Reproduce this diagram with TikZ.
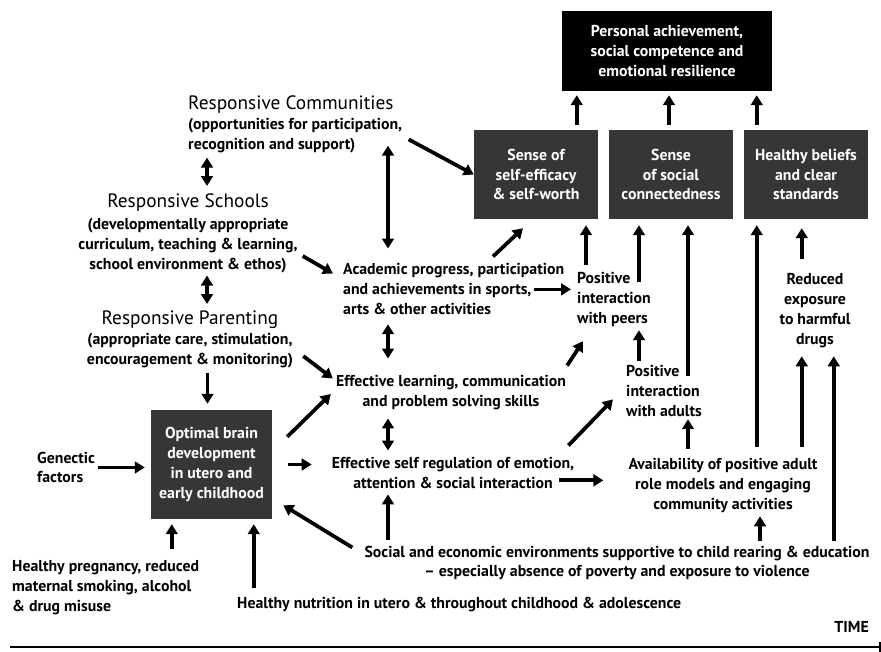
\documentclass[tikz,border=0pt]{standalone}
\usepackage{fontspec}
\setmainfont{PT Sans}
\usetikzlibrary{arrows.meta,calc}
\definecolor{boxgray}{HTML}{363636}
\newcommand\ttlfont{\fontsize{16.5}{18}\selectfont}
\begin{document}
\begin{tikzpicture}[x=0.03cm,y=-0.03cm,
    txt/.style={inner sep=0pt,font=\fontsize{13.5}{17}\selectfont\bfseries},
    ttl/.style={inner sep=0pt,font=\ttlfont},
    blackbox/.style={fill=black,text=white,align=center,inner sep=0pt,
      font=\fontsize{13.5}{17}\selectfont\bfseries,minimum width=6.3cm,minimum height=2.4cm},
    graybox/.style={fill=boxgray,text=white,align=center,inner sep=0pt,
      font=\fontsize{13.5}{17}\selectfont\bfseries},
    arr/.style={line width=3.2pt,-{Triangle[length=8.5pt,width=10pt]}},
    darr/.style={line width=3.2pt,{Triangle[length=8.5pt,width=10pt]}-{Triangle[length=8.5pt,width=10pt]}}]
      \useasboundingbox (0,0) rectangle (881,651);

      % boxes
      \node[blackbox] (top) at (667,51) {Personal achievement,\\social competence and\\emotional resilience};
      \node[graybox,minimum width=3.72cm,minimum height=2.67cm] (box1) at (536,174.5) {Sense of\\self-efficacy\\\& self-worth};
      \node[graybox,minimum width=3.72cm,minimum height=2.67cm] (box2) at (671,174.5) {Sense\\of social\\connectedness};
      \node[graybox,minimum width=3.72cm,minimum height=2.67cm] (box3) at (806,174.5) {Healthy beliefs\\and clear\\standards};
      \node[graybox,minimum width=3.63cm,minimum height=3.27cm] (brain) at (211.5,464.5) {Optimal brain\\development\\in utero and\\early childhood};

      % texts
      \node[ttl,anchor=north west] (commT) at (188,96) {Responsive Communities};
      \node[txt,anchor=north west,align=left] (comm) at (188,118.5) {(opportunities for participation,\\recognition and support)};
      \node[ttl,anchor=north] (schT) at (188,194) {Responsive Schools};
      \node[txt,anchor=north,align=center] (sch) at (188,218.5) {(developmentally appropriate\\curriculum, teaching \& learning,\\school environment \& ethos)};
      \node[ttl,anchor=north] (parT) at (190,311) {Responsive Parenting};
      \node[txt,anchor=north,align=center] (par) at (190,333.5) {(appropriate care, stimulation,\\encouragement \& monitoring)};
      \node[txt,anchor=north west,align=left] (acad) at (343,263.5) {Academic progress, participation\\and achievements in sports,\\arts \& other activities};
      \node[txt,anchor=north,align=center] (learn) at (451,375.5) {Effective learning, communication\\and problem solving skills};
      \node[txt,anchor=north,align=center] (selfreg) at (453,457.5) {Effective self regulation of emotion,\\attention \& social interaction};
      \node[txt,anchor=north west,align=left] (peers) at (577,272.5) {Positive\\interaction\\with peers};
      \node[txt,anchor=north west,align=left] (adults) at (626,365.5) {Positive\\interaction\\with adults};
      \node[txt,anchor=north,align=center] (avail) at (723,458.5) {Availability of positive adult\\role models and engaging\\community activities};
      \node[txt,anchor=north,align=center] (reduced) at (815,273.5) {Reduced\\exposure\\to harmful\\drugs};
      \node[txt,anchor=north,align=center] (social) at (617,545.5) {Social and economic environments supportive to child rearing \& education\\-- especially absence of poverty and exposure to violence};
      \node[txt,anchor=north west] (nutri) at (237,596.5) {Healthy nutrition in utero \& throughout childhood \& adolescence};
      \node[txt,anchor=north west,align=left] (preg) at (12,560.5) {Healthy pregnancy, reduced\\maternal smoking, alcohol\\\& drug misuse};
      \node[txt,anchor=north west,align=left] (gen) at (37,451.5) {Genectic\\factors};
      \node[txt,anchor=north east] (time) at (869,621.5) {TIME};

      % time line
      \draw[line width=2.5pt,-{Bar[width=9pt,line width=1.5pt]}] (10,647) -- (881,647);

      % upward to top box
      \draw[arr] ($(box1.north -| top.south west)+(15,-5)$) -- ($(top.south west)+(15,4)$);
      \draw[arr] ($(box2.north)+(-2,-5)$) -- ($(top.south)+(2,4)$);
      \draw[arr] ($(box3.north west)+(13,-5)$) -- ($(box3.north west |- top.south)+(13,4)$);

      % responsive column
      \draw[arr,shorten <=6pt] (comm.east) -- (box1.west);
      \draw[darr] ($(schT.north)+(19,-8)$) -- ($(schT.north |- comm.south)+(19,4)$);
      \draw[darr] ($(parT.north)+(17,-7)$) -- ($(parT.north |- sch.south)+(17,2)$);
      \draw[arr] ($(par.south -| brain.north)+(-4,4)$) -- ($(brain.north)+(-4,-6)$);
      \draw[arr] ($(sch.east)+(5,10)$) -- ($(acad.north west)+(-10,10)$);
      \draw[arr] ($(par.east)+(10,5)$) -- ($(learn.north west)+(-3,3)$);

      % middle column
      \draw[darr] ($(acad.north west)+(45,-15)$) -- ($(acad.north west |- comm.south)+(45,-8)$);
      \draw[darr] ($(acad.south west)+(45,9)$) -- ($(acad.south west |- learn.north)+(45,-17)$);
      \draw[darr] ($(acad.south west |- learn.south)+(45,8)$) -- ($(acad.south west |- selfreg.north)+(45,-7)$);
      \draw[arr] ($(acad.south west |- social.north)+(45,-6)$) -- ($(acad.south west |- selfreg.south)+(45,5)$);
      \draw[arr] ($(acad.north west)+(150,-7)$) -- ($(box1.south)+(-13,9)$);
      \draw[arr] ($(acad.east)+(-30,0)$) -- ($(acad.east -| peers.west)+(-6,0)$);
      \draw[arr] ($(learn.north east)+(1,-10)$) -- ($(peers.south west)+(6,14)$);
      \draw[arr] ($(selfreg.north east)+(-6,-12)$) -- ($(adults.west)+(-13,8)$);
      \draw[arr] ($(selfreg.south east)+(-15,-9)$) -- ($(selfreg.south east -| avail.west)+(-25,-9)$);

      % interactions
      \draw[arr] ($(peers.north west)+(9,-8)$) -- ($(peers.north west |- box1.south)+(9,6)$);
      \draw[arr] ($(peers.north west)+(62,9)$) -- ($(peers.north west |- box2.south)+(62,6)$);
      \draw[arr] ($(adults.north west)+(62,10)$) -- ($(adults.north west |- box2.south)+(62,6)$);
      \draw[arr] ($(adults.north west)+(13,-5)$) -- ($(adults.north west |- peers.south)+(13,3)$);
      \draw[arr] ($(adults.south west |- avail.north)+(62,-10)$) -- ($(adults.south west)+(62,2)$);

      % right column
      \draw[arr] ($(box3.south west |- avail.north)+(13,-12)$) -- ($(box3.south west)+(13,6)$);
      \draw[arr] ($(box3.south west |- avail.north)+(58,-12)$) -- ($(box3.south west |- reduced.south)+(58,8)$);
      \draw[arr] ($(box3.south west |- reduced.north)+(58,-15)$) -- ($(box3.south west)+(58,9)$);
      \draw[arr] ($(box3.south west |- social.north)+(90,-5)$) -- ($(box3.south west |- reduced.south)+(90,8)$);
      \draw[arr] ($(avail.south |- social.north)+(37,-5)$) -- ($(avail.south)+(37,3)$);

      % into the brain box
      \draw[arr] ($(social.north west)+(-12,2)$) -- ($(brain.south east)+(11,-14)$);
      \draw[arr] ($(brain.north east)+(15,27)$) -- ($(learn.west)+(-5,1)$);
      \draw[arr] ($(brain.east)+(16,0)$) -- ($(brain.east -| selfreg.west)+(-20,0)$);
      \draw[arr] ($(gen.east)+(3,0)$) -- ($(gen.east -| brain.west)+(-6,0)$);
      \draw[arr] ($(brain.south west |- preg.north)+(21,-12)$) -- ($(brain.south west)+(21,5)$);
      \draw[arr] ($(brain.south west |- nutri.north)+(103,-9)$) -- ($(brain.south west)+(103,5)$);
    \end{tikzpicture}
\end{document}
